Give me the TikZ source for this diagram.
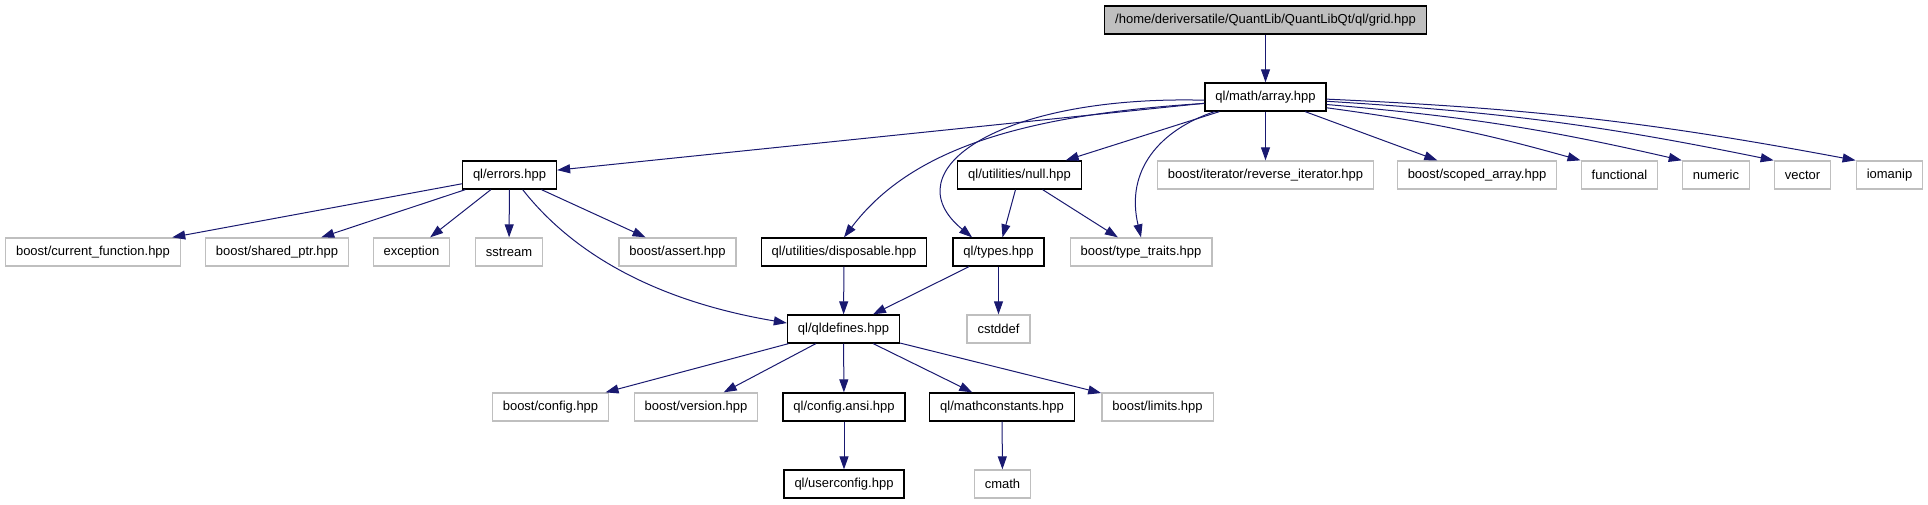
\documentclass[tikz,border=0pt]{standalone}
\usepackage{fontspec}
\setmainfont{Liberation Sans}
\usetikzlibrary{arrows.meta}
\definecolor{extgrau}{HTML}{BFBFBF}
\definecolor{kantenblau}{HTML}{191970}

\begin{document}
\begin{tikzpicture}[>={Triangle[length=13pt,width=9pt]}, x=1pt, y=1pt,
    datei/.style={draw=black, line width=1.3pt, minimum height=28pt,
        inner xsep=10.5pt, inner ysep=0pt, font=\fontsize{13}{15}\selectfont},
    extern/.style={datei, draw=extgrau},
    haupt/.style={datei, fill=extgrau},
    kante/.style={->, draw=kantenblau, line width=1pt}]
\useasboundingbox (0,0) rectangle (1928,504);
% Wurzel und array.hpp
\node[haupt] (root) at (1265.5,484) {/home/deriversatile/QuantLib/QuantLibQt/ql/grid.hpp};
\node[datei] (array) at (1265.5,407) {ql/math/array.hpp};
% zweite Ebene
\node[datei] (errors) at (509.5,329) {ql/errors.hpp};
\node[datei] (null) at (1019.5,329) {ql/utilities/null.hpp};
\node[extern] (revit) at (1265.5,329) {boost/iterator/reverse\_iterator.hpp};
\node[extern] (scoped) at (1477,329) {boost/scoped\_array.hpp};
\node[extern] (functional) at (1619.5,329) {functional};
\node[extern] (numeric) at (1716,329) {numeric};
\node[extern] (vector) at (1802.5,329) {vector};
\node[extern] (iomanip) at (1889.5,329) {iomanip};
% dritte Ebene
\node[extern] (curfun) at (93,252) {boost/current\_function.hpp};
\node[extern] (sharedptr) at (277,252) {boost/shared\_ptr.hpp};
\node[extern] (exception) at (411.5,252) {exception};
\node[extern] (sstream) at (509,252) {sstream};
\node[extern] (assert) at (677.5,252) {boost/assert.hpp};
\node[datei] (disposable) at (844,252) {ql/utilities/disposable.hpp};
\node[datei] (types) at (998.5,252) {ql/types.hpp};
\node[extern] (typetraits) at (1141,252) {boost/type\_traits.hpp};
% vierte Ebene
\node[datei] (qldefines) at (843.5,175) {ql/qldefines.hpp};
\node[extern] (cstddef) at (998.5,175) {cstddef};
% fuenfte Ebene
\node[extern] (config) at (550.5,97) {boost/config.hpp};
\node[extern] (version) at (696,97) {boost/version.hpp};
\node[datei] (configansi) at (844,97) {ql/config.ansi.hpp};
\node[datei] (mathconst) at (1002,97) {ql/mathconstants.hpp};
\node[extern] (limits) at (1157.5,97) {boost/limits.hpp};
% unterste Ebene
\node[datei] (userconfig) at (844,20) {ql/userconfig.hpp};
\node[extern] (cmath) at (1002.5,20) {cmath};
% Kanten von oben
\draw[kante] (root) -- (array);
\draw[kante] (array) -- (errors);
\draw[kante] (array.186) .. controls (1020,389) and (910,354) .. (disposable.north);
\draw[kante] (array.183) .. controls (1000,409) and (890,334) .. (types.151);
\draw[kante] (array) -- (null);
\draw[kante] (array.196) .. controls (1160,374) and (1125,334) .. (typetraits.north);
\draw[kante] (array) -- (revit);
\draw[kante] (array) -- (scoped);
\foreach \ziel/\w in {functional/-10, numeric/-7, vector/-4, iomanip/-2} {
    \draw[kante] (array.\w) to[bend left=4] (\ziel.north west);
}
% Kanten von errors.hpp
\foreach \ziel in {curfun, sharedptr, exception, sstream, assert} {
    \draw[kante] (errors) -- (\ziel);
}
\draw[kante] (errors.-48) .. controls (570,254) and (650,204) .. (qldefines.174);
% Kanten der mittleren Ebenen
\draw[kante] (null) -- (types);
\draw[kante] (null) -- (typetraits);
\draw[kante] (disposable) -- (qldefines);
\draw[kante] (types) -- (qldefines);
\draw[kante] (types) -- (cstddef);
% Kanten von qldefines.hpp
\foreach \ziel in {config, version, configansi, mathconst, limits} {
    \draw[kante] (qldefines) -- (\ziel);
}
\draw[kante] (configansi) -- (userconfig);
\draw[kante] (mathconst) -- (cmath);
\end{tikzpicture}
\end{document}
